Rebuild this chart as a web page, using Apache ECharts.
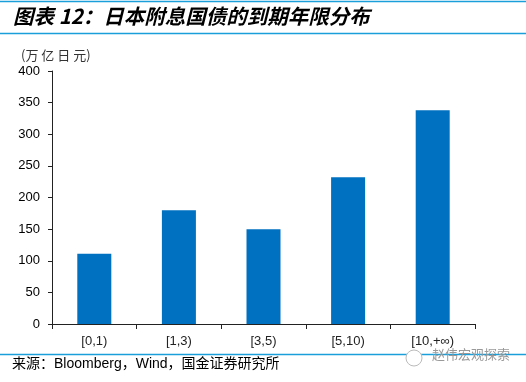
<!DOCTYPE html>
<html><head><meta charset="utf-8">
<script src="https://cdn.jsdelivr.net/npm/echarts@6/dist/echarts.min.js"></script>
<style>html,body{margin:0;padding:0;background:#fff}#c{width:526px;height:382px}</style>
</head><body><div id="c"></div>
<script>
const categories = ['[0,1)', '[1,3)', '[3,5)', '[5,10)', '[10,+\u221e)'];
const values = [111, 180, 150, 232, 338];
const yTicks = [0, 50, 100, 150, 200, 250, 300, 350, 400];
const titleText = '图表 12：日本附息国债的到期年限分布';
const unitText = '(万 亿 日 元)';
const sourceText = '来源：Bloomberg，Wind，国金证券研究所';
const watermarkText = '赵伟宏观探索';

const chart = echarts.init(document.getElementById('c'), null, {renderer: 'canvas'});
const lineColor = '#1B9FDA';
chart.setOption({
  animation: false,
  backgroundColor: '#fff',
  graphic: [
    {type: 'line', shape: {x1: 0, y1: 1.5, x2: 526, y2: 1.5}, style: {stroke: lineColor, lineWidth: 1.5}},
    {type: 'line', shape: {x1: 0, y1: 33.5, x2: 526, y2: 33.5}, style: {stroke: lineColor, lineWidth: 1.5}},
    {type: 'line', shape: {x1: 0, y1: 354.5, x2: 526, y2: 354.5}, style: {stroke: lineColor, lineWidth: 1.5}},
    {type: 'text', left: 13, top: 6, style: {text: titleText, fontSize: 20.5, fontWeight: 'bold', fontStyle: 'italic', fill: '#000', fontFamily: '"Noto Sans CJK SC", Arial, sans-serif'}},
    {type: 'text', left: 21, top: 49, style: {text: unitText, fontSize: 13, fill: '#333', fontFamily: '"Noto Sans CJK SC", sans-serif'}},
    {type: 'text', left: 12, top: 357, style: {text: sourceText, fontSize: 14, fill: '#000', fontFamily: 'Arial, "Noto Sans CJK SC", sans-serif'}},
    {type: 'circle', shape: {cx: 414, cy: 358, r: 8}, style: {fill: '#fff', stroke: '#bbb', lineWidth: 1}},
    {type: 'text', left: 432, top: 348, style: {text: watermarkText, fontSize: 13, fill: '#999', fontFamily: '"Noto Sans CJK SC", sans-serif'}}
  ],
  grid: {left: 52, right: 51, top: 71, bottom: 58, containLabel: false},
  xAxis: {
    type: 'category', data: categories,
    axisLine: {lineStyle: {color: '#222', width: 1}},
    axisTick: {show: true, length: 5, alignWithLabel: false, lineStyle: {color: '#222'}},
    axisLabel: {color: '#222', fontSize: 13, margin: 11, fontFamily: 'Arial, sans-serif'}
  },
  yAxis: {
    type: 'value', min: 0, max: 400, interval: 50,
    splitLine: {show: false},
    axisLine: {show: true, lineStyle: {color: '#222', width: 1}},
    axisTick: {show: true, length: 4, lineStyle: {color: '#222'}},
    axisLabel: {color: '#000', fontSize: 13, margin: 12, fontFamily: 'Arial, sans-serif',
      formatter: v => yTicks.includes(v) ? String(v) : ''}
  },
  series: [{
    type: 'bar', data: values, barWidth: 34,
    itemStyle: {color: '#0070C0'}
  }]
});
</script></body></html>
